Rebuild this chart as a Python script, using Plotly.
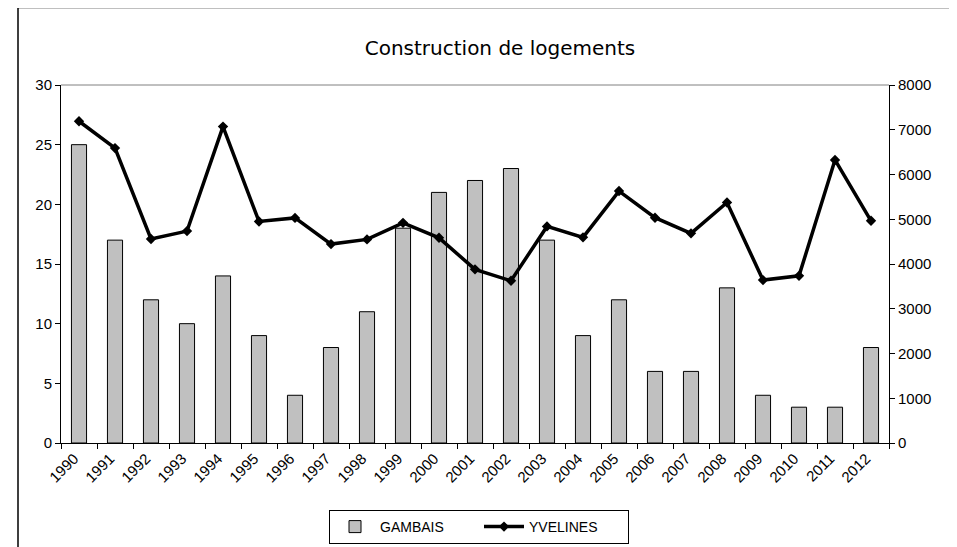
import plotly.graph_objects as go

years = [str(y) for y in range(1990, 2013)]
gambais = [25, 17, 12, 10, 14, 9, 4, 8, 11, 18, 21, 22, 23, 17, 9, 12, 6, 6, 13, 4, 3, 3, 8]
yvelines = [7190, 6590, 4560, 4735, 7070, 4950, 5030, 4445, 4550, 4920, 4585, 3880,
            3625, 4840, 4595, 5630, 5035, 4685, 5375, 3640, 3735, 6325, 4965]

FONT = "Liberation Sans, Arial, sans-serif"

fig = go.Figure()
fig.add_trace(go.Bar(
    x=years, y=gambais, name="GAMBAIS",
    marker=dict(color="#c0c0c0", line=dict(color="black", width=1)),
    yaxis="y",
))
fig.add_trace(go.Scatter(
    x=years, y=yvelines, name="YVELINES", mode="lines+markers",
    line=dict(color="black", width=3.5),
    marker=dict(symbol="diamond", size=8, color="black"),
    yaxis="y2",
))

# the page body adds an 8px offset; work in screen coordinates and subtract it
OFF = 8
W, H = 957 - OFF, 547 - OFF
left, right, top, bottom = 61, 889, 85, 443  # plot area in screen px
L = left - OFF
R = (W + OFF) - right
T = top - OFF
B = (H + OFF) - bottom
pw = right - left
ph = bottom - top

def px(x):
    return (x - left) / pw

def py(y):
    return (bottom - y) / ph

fig.update_layout(
    width=W, height=H,
    margin=dict(l=L, r=R, t=T, b=B, autoexpand=False),
    paper_bgcolor="white", plot_bgcolor="white",
    font=dict(family=FONT, size=15, color="black"),
    title=dict(text="Construction de logements", xref="container",
               x=(500 - OFF) / W, xanchor="center",
               y=1 - (48 - OFF) / H, yanchor="middle",
               font=dict(family="DejaVu Sans, sans-serif", size=20, color="black")),
    bargap=0.58,
    showlegend=True,
    legend=dict(orientation="h", x=px(479), xanchor="center", y=py(527), yanchor="middle",
                bordercolor="black", borderwidth=1, bgcolor="white",
                font=dict(family=FONT, size=14, color="black"),
                itemwidth=40, entrywidth=94, entrywidthmode="pixels"),
    xaxis=dict(type="category", range=[-0.5, 22.5], autorange=False, automargin=False,
               showline=True, linecolor="black", linewidth=1,
               ticks="outside", tickson="boundaries", ticklen=5, tickcolor="black",
               tickangle=-45, showgrid=False, tickfont=dict(size=15), mirror=False,
               ticklabelshift=-5),
    yaxis=dict(range=[0, 30], dtick=5, showline=True, linecolor="black", linewidth=1,
               automargin=False,
               ticks="outside", ticklen=5, tickcolor="black", showgrid=False,
               zeroline=False, tickfont=dict(size=15)),
    yaxis2=dict(range=[0, 8000], dtick=1000, overlaying="y", side="right",
                automargin=False,
                showline=True, linecolor="black", linewidth=1,
                ticks="outside", ticklen=5, tickcolor="black", showgrid=False,
                zeroline=False, tickfont=dict(size=15)),
    shapes=[
        dict(type="line", xref="paper", yref="paper", x0=0, x1=1, y0=1, y1=1,
             line=dict(color="#808080", width=1)),
        dict(type="rect", xref="paper", yref="paper",
             x0=px(18), x1=px(953), y0=py(580), y1=py(7.5),
             line=dict(color="black", width=1.5), fillcolor="rgba(0,0,0,0)"),
    ],
)

fig.write_html("out.html")
